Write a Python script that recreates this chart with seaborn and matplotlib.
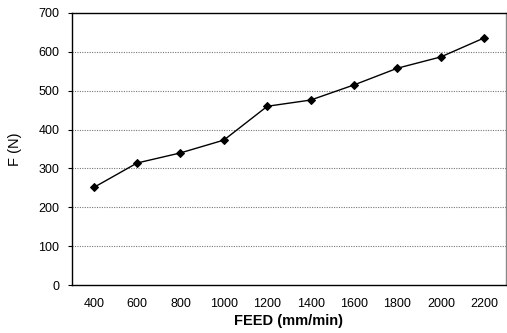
import numpy as np
import pandas as pd
import matplotlib
matplotlib.use("Agg")
import matplotlib.pyplot as plt
import seaborn as sns

# Data
feed = ["400", "600", "800", "1000", "1200", "1400", "1600", "1800", "2000", "2200"]
force = [251, 314, 340, 373, 460, 476, 515, 558, 587, 636]
y_ticks = [0, 100, 200, 300, 400, 500, 600, 700]

df = pd.DataFrame({"FEED": feed, "F": force})

sns.set_theme(style="white")
plt.rcParams['font.family'] = ['Liberation Sans', 'DejaVu Sans']

fig = plt.figure(figsize=(5.07, 3.33), dpi=100)
ax = fig.add_axes([0.142, 0.144, 0.856, 0.817])

sns.lineplot(data=df, x="FEED", y="F", ax=ax, color="black", lw=1.0,
             marker="D", markersize=4.5, markeredgecolor="black", sort=False)

ax.set_xlim(-0.5, len(feed) - 0.5)
ax.set_ylim(0, 700)
ax.set_yticks(y_ticks)
ax.set_xticks(range(len(feed)))
ax.set_xticklabels(feed)
ax.set_xticks(np.arange(0.5, len(feed) - 0.5, 1), minor=True)

# dotted horizontal gridlines
for v in y_ticks[1:-1]:
    ax.axhline(v, color="#777777", lw=0.8, ls=(0, (1, 1.2)), zorder=0)

for s in ax.spines.values():
    s.set_visible(True)
    s.set_color("black")
    s.set_linewidth(1.0)
ax.spines["right"].set_color("#888888")

ax.tick_params(axis="x", which="major", length=0, pad=9, labelsize=9, labelcolor="black")
ax.tick_params(axis="x", which="minor", direction="in", length=3, color="black", width=0.8)
ax.tick_params(axis="y", which="major", direction="out", length=3, pad=6, labelsize=9,
               left=True, color="black", width=0.8, labelcolor="black")

ax.set_xlabel("FEED (mm/min)", fontsize=10.5, fontweight="bold", labelpad=3, color="black")
ax.set_ylabel("F (N)", fontsize=10.5, labelpad=12, color="black")

fig.savefig("out.png", dpi=100)
